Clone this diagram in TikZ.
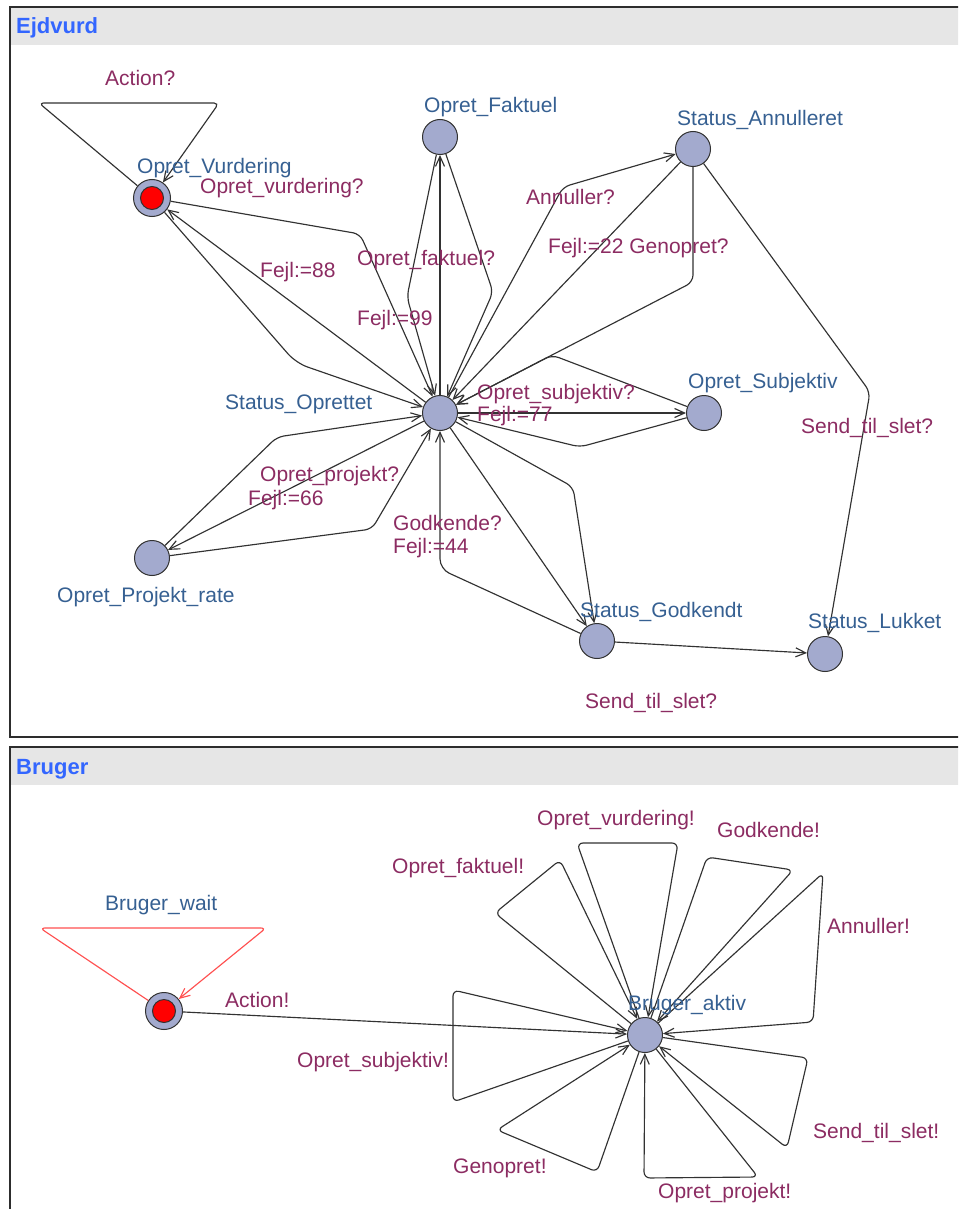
\documentclass[tikz,border=0pt]{standalone}
\usepackage{fontspec}
\setmainfont{Liberation Sans}
\usetikzlibrary{arrows.meta}
\definecolor{locfill}{RGB}{163,170,206}
\definecolor{locname}{RGB}{54,96,146}
\definecolor{edgelbl}{RGB}{140,44,98}
\definecolor{edgeline}{RGB}{50,50,50}
\definecolor{titleblue}{RGB}{51,102,255}
\definecolor{titlebar}{RGB}{230,230,230}
\definecolor{panelborder}{RGB}{45,45,45}
\definecolor{looped}{RGB}{255,80,80}
\definecolor{initred}{RGB}{255,0,0}

\begin{document}
\begin{tikzpicture}[x=1pt,y=-1pt,
  loc/.style={circle,draw=edgeline,line width=1pt,fill=locfill,minimum size=35pt,inner sep=0pt},
  lname/.style={anchor=west,inner sep=0pt,text=locname,font=\fontsize{21}{24}\selectfont,text height=15pt,text depth=4pt},
  guard/.style={anchor=west,inner sep=0pt,text=edgelbl,font=\fontsize{21}{24}\selectfont,text height=15pt,text depth=4pt},
  trans/.style={draw=edgeline,line width=1.15pt,rounded corners=7pt,-{Straight Barb[length=10pt,width=9pt]}},
  redtrans/.style={trans,draw=looped},
  ptitle/.style={anchor=west,inner sep=0pt,text=titleblue,font=\bfseries\fontsize{22}{24}\selectfont},
]
\useasboundingbox (0,0) rectangle (958,1209);
\clip (0,0) rectangle (958,1209);
\fill[white] (0,0) rectangle (958,1209);

% ---------- panels ----------
\fill[titlebar] (11,8) rectangle (975,45);
\draw[panelborder,line width=2pt] (10,7) rectangle (980,737);
\node[ptitle] (ttop) at (16,28) {Ejdvurd};

\fill[titlebar] (11,748) rectangle (975,785);
\draw[panelborder,line width=2pt] (10,747) rectangle (980,1240);
\node[ptitle] (tbot) at (16,769) {Bruger};

% ---------- Ejdvurd locations ----------
\node[loc,minimum size=37pt] (vurd) at (152,198) {};
\fill[initred,draw=edgeline,line width=1pt] (vurd.center) circle (11.5);
\node[loc] (fakt) at (440,137) {};
\node[loc] (annul) at (693,149) {};
\node[loc] (oprettet) at (440,413) {};
\node[loc] (subj) at (704,413) {};
\node[loc] (projekt) at (152,558) {};
\node[loc] (godk) at (597,641) {};
\node[loc] (lukket) at (825,654) {};

% bend points
\coordinate (vloopA) at (39,103);
\coordinate (vloopB) at (219,103);
\coordinate (vbendHi) at (360,234);
\coordinate (vbendLo) at (296,363);
\coordinate (fbendL) at (407,297);
\coordinate (fbendR) at (493,292);
\coordinate (abend) at (563,187);
\coordinate (adown) at (693,282);
\coordinate (meet) at (552,355);
\coordinate (sbendLo) at (580,447);
\coordinate (pbendHi) at (277,437);
\coordinate (pbendLo) at (372,529);
\coordinate (gbendR) at (573,487);
\coordinate (gbendL) at (440,569);
\coordinate (lbend) at (870,392);

% transitions
\draw[trans,rounded corners=5pt] (vurd) -- (vloopA) -- (vloopB) -- (vurd);
\draw[trans] (vurd) -- (vbendHi) -- (oprettet);
\draw[trans] (oprettet) -- (vurd);
\draw[trans,rounded corners=12pt] (vurd) -- (vbendLo) -- (oprettet);

\draw[trans] (oprettet) -- (fakt);
\draw[trans] (fakt) -- (fbendL) -- (oprettet);
\draw[trans] (fakt) -- (fbendR) -- (oprettet);

\draw[trans] (oprettet) -- (abend) -- (annul);
\draw[trans] (annul) -- (oprettet);
\draw[trans] (annul) -- (adown) -- (meet) -- (oprettet);

\draw[trans] (oprettet) -- (subj);
\draw[trans] (subj) -- (meet) -- (oprettet);
\draw[trans] (subj) -- (sbendLo) -- (oprettet);

\draw[trans] (projekt) -- (pbendHi) -- (oprettet);
\draw[trans] (oprettet) -- (projekt);
\draw[trans] (projekt) -- (pbendLo) -- (oprettet);

\draw[trans] (oprettet) -- (godk);
\draw[trans] (oprettet) -- (gbendR) -- (godk);
\draw[trans,rounded corners=10pt] (godk) -- (gbendL) -- (oprettet);

\draw[trans] (godk) -- (lukket);
\draw[trans] (annul) -- (lbend) -- (lukket);

% location names
\node[lname] (nvurd) at (137,168) {Opret\_Vurdering};
\node[lname] (nfakt) at (424,107) {Opret\_Faktuel};
\node[lname] (nannul) at (677,120) {Status\_Annulleret};
\node[lname] (nopr) at (225,404) {Status\_Oprettet};
\node[lname] (nsubj) at (688,383) {Opret\_Subjektiv};
\node[lname] (nproj) at (57,597) {Opret\_Projekt\_rate};
\node[lname] (ngodk) at (580,612) {Status\_Godkendt};
\node[lname] (nluk) at (808,623) {Status\_Lukket};

% guards, syncs and updates
\node[guard] (g1) at (105,80) {Action?};
\node[guard] (g2) at (200,188) {Opret\_vurdering?};
\node[guard] (g3) at (357,260) {Opret\_faktuel?};
\node[guard] (g4) at (260,272) {Fejl:=88};
\node[guard] (g5) at (357,320) {Fejl:=99};
\node[guard] (g6) at (526,199) {Annuller?};
\node[guard] (g7) at (548,248) {Fejl:=22 Genopret?};
\node[guard] (g8) at (477,394) {Opret\_subjektiv?};
\node[guard] (g9) at (477,416) {Fejl:=77};
\node[guard] (g10) at (801,428) {Send\_til\_slet?};
\node[guard] (g11) at (260,476) {Opret\_projekt?};
\node[guard] (g12) at (248,500) {Fejl:=66};
\node[guard] (g13) at (393,525) {Godkende?};
\node[guard] (g14) at (393,548) {Fejl:=44};
\node[guard] (g15) at (585,703) {Send\_til\_slet?};

% ---------- Bruger locations ----------
\node[loc,minimum size=37pt] (wait) at (164,1011) {};
\fill[initred,draw=edgeline,line width=1pt] (wait.center) circle (11.5);
\node[loc] (aktiv) at (645,1035) {};

\coordinate (wloopA) at (40,928);
\coordinate (wloopB) at (266,928);
\draw[redtrans,rounded corners=5pt] (wait) -- (wloopA) -- (wloopB) -- (wait);
\draw[trans] (wait) -- (aktiv);

% self loops on Bruger_aktiv
\coordinate (l1a) at (495,913);  \coordinate (l1b) at (560,860);
\coordinate (l2a) at (577,843);  \coordinate (l2b) at (678,843);
\coordinate (l3a) at (707,857);  \coordinate (l3b) at (793,870);
\coordinate (l4a) at (823,873);  \coordinate (l4b) at (813,1022);
\coordinate (l5a) at (808,1058); \coordinate (l5b) at (787,1148);
\coordinate (l6a) at (758,1177); \coordinate (l6b) at (644,1178);
\coordinate (l7a) at (597,1172); \coordinate (l7b) at (497,1130);
\coordinate (l8a) at (453,1102); \coordinate (l8b) at (453,990);
\foreach \k in {1,...,8}{
  \draw[trans,rounded corners=6pt] (aktiv) -- (l\k a) -- (l\k b) -- (aktiv);
}

\node[lname] (nwait) at (105,905) {Bruger\_wait};
\node[lname] (naktiv) at (628,1005) {Bruger\_aktiv};

\node[guard] (b0) at (225,1002) {Action!};
\node[guard] (b1) at (392,868) {Opret\_faktuel!};
\node[guard] (b2) at (537,820) {Opret\_vurdering!};
\node[guard] (b3) at (717,832) {Godkende!};
\node[guard] (b4) at (827,928) {Annuller!};
\node[guard] (b5) at (813,1133) {Send\_til\_slet!};
\node[guard] (b6) at (658,1193) {Opret\_projekt!};
\node[guard] (b7) at (453,1168) {Genopret!};
\node[guard] (b8) at (297,1062) {Opret\_subjektiv!};
\end{tikzpicture}
\end{document}
